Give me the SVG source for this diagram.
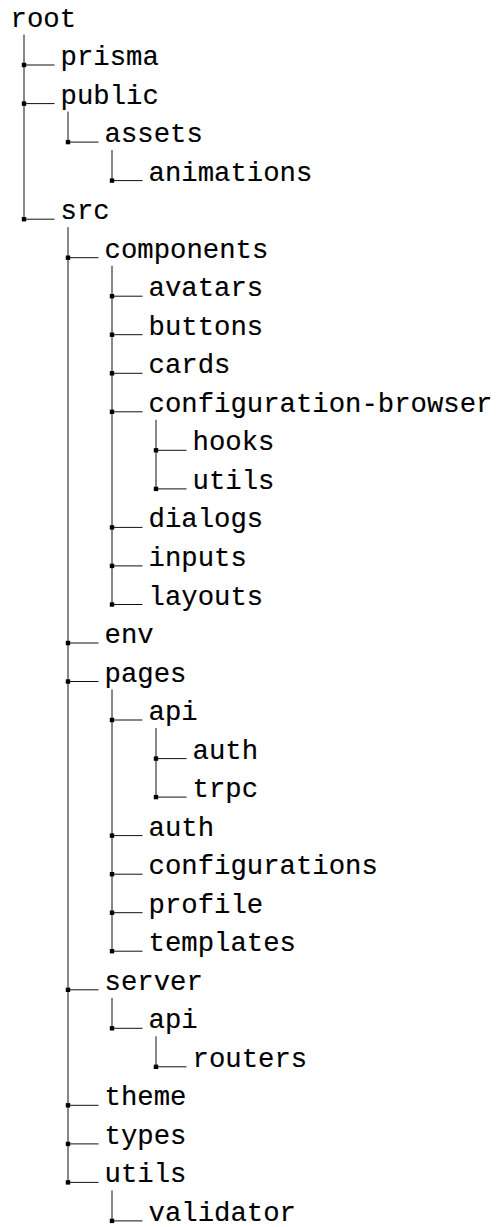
<svg xmlns="http://www.w3.org/2000/svg" width="497" height="1227" viewBox="0 0 497 1227">
  <style>
    .lbl { font-family: "Liberation Mono", "Courier New", monospace; font-size: 27.3px; fill: #000; stroke: #000; stroke-width: 0.15px; }
    .edge { stroke: #111; stroke-width: 1; fill: none; }
    .dot { fill: #000; }
  </style>
  <defs>
    <rect id="knot" class="dot" x="-2.2" y="-2.2" width="4.4" height="4.4"/>
  </defs>
  <rect width="497" height="1227" fill="#fff"/>

  <!-- trunk lines and elbows -->
  <g id="connectors">
    <!-- vertical trunks: parent baseline + 8 down to last child -->
    <line class="edge" x1="24" y1="34.5" x2="24" y2="219.2"/>
    <line class="edge" x1="68" y1="111.6" x2="68" y2="142.1"/>
    <line class="edge" x1="112" y1="150.1" x2="112" y2="180.6"/>
    <line class="edge" x1="68" y1="227.2" x2="68" y2="1182.4"/>
    <line class="edge" x1="112" y1="265.7" x2="112" y2="604.5"/>
    <line class="edge" x1="156" y1="419.8" x2="156" y2="488.9"/>
    <line class="edge" x1="112" y1="689.5" x2="112" y2="951.2"/>
    <line class="edge" x1="156" y1="728" x2="156" y2="797.1"/>
    <line class="edge" x1="112" y1="997.8" x2="112" y2="1028.3"/>
    <line class="edge" x1="156" y1="1036.3" x2="156" y2="1066.8"/>
    <line class="edge" x1="112" y1="1190.4" x2="112" y2="1220.9"/>

    <!-- horizontal elbows -->
    <path class="edge" d="M24 65h30.5 M24 103.6h30.5 M68 142.1h30.5 M112 180.6h30.5 M24 219.2h30.5
      M68 257.7h30.5 M112 296.2h30.5 M112 334.7h30.5 M112 373.3h30.5 M112 411.8h30.5
      M156 450.3h30.5 M156 488.9h30.5 M112 527.4h30.5 M112 565.9h30.5 M112 604.5h30.5
      M68 643h30.5 M68 681.5h30.5 M112 720h30.5 M156 758.6h30.5 M156 797.1h30.5
      M112 835.6h30.5 M112 874.2h30.5 M112 912.7h30.5 M112 951.2h30.5
      M68 989.8h30.5 M112 1028.3h30.5 M156 1066.8h30.5
      M68 1105.3h30.5 M68 1143.9h30.5 M68 1182.4h30.5 M112 1220.9h30.5"/>

    <!-- junction squares -->
    <use href="#knot" x="24" y="65"/>
    <use href="#knot" x="24" y="103.6"/>
    <use href="#knot" x="68" y="142.1"/>
    <use href="#knot" x="112" y="180.6"/>
    <use href="#knot" x="24" y="219.2"/>
    <use href="#knot" x="68" y="257.7"/>
    <use href="#knot" x="112" y="296.2"/>
    <use href="#knot" x="112" y="334.7"/>
    <use href="#knot" x="112" y="373.3"/>
    <use href="#knot" x="112" y="411.8"/>
    <use href="#knot" x="156" y="450.3"/>
    <use href="#knot" x="156" y="488.9"/>
    <use href="#knot" x="112" y="527.4"/>
    <use href="#knot" x="112" y="565.9"/>
    <use href="#knot" x="112" y="604.5"/>
    <use href="#knot" x="68" y="643"/>
    <use href="#knot" x="68" y="681.5"/>
    <use href="#knot" x="112" y="720"/>
    <use href="#knot" x="156" y="758.6"/>
    <use href="#knot" x="156" y="797.1"/>
    <use href="#knot" x="112" y="835.6"/>
    <use href="#knot" x="112" y="874.2"/>
    <use href="#knot" x="112" y="912.7"/>
    <use href="#knot" x="112" y="951.2"/>
    <use href="#knot" x="68" y="989.8"/>
    <use href="#knot" x="112" y="1028.3"/>
    <use href="#knot" x="156" y="1066.8"/>
    <use href="#knot" x="68" y="1105.3"/>
    <use href="#knot" x="68" y="1143.9"/>
    <use href="#knot" x="68" y="1182.4"/>
    <use href="#knot" x="112" y="1220.9"/>
  </g>

  <!-- directory names -->
  <g id="n-root"><text class="lbl" x="10.5" y="26.5">root</text></g>
  <g id="n-prisma"><text class="lbl" x="60.5" y="65">prisma</text></g>
  <g id="n-public"><text class="lbl" x="60.5" y="103.6">public</text></g>
  <g id="n-assets"><text class="lbl" x="104.5" y="142.1">assets</text></g>
  <g id="n-animations"><text class="lbl" x="148.5" y="180.6">animations</text></g>
  <g id="n-src"><text class="lbl" x="60.5" y="219.2">src</text></g>
  <g id="n-components"><text class="lbl" x="104.5" y="257.7">components</text></g>
  <g id="n-avatars"><text class="lbl" x="148.5" y="296.2">avatars</text></g>
  <g id="n-buttons"><text class="lbl" x="148.5" y="334.7">buttons</text></g>
  <g id="n-cards"><text class="lbl" x="148.5" y="373.3">cards</text></g>
  <g id="n-configuration-browser"><text class="lbl" x="148.5" y="411.8">configuration-browser</text></g>
  <g id="n-hooks"><text class="lbl" x="192.5" y="450.3">hooks</text></g>
  <g id="n-cb-utils"><text class="lbl" x="192.5" y="488.9">utils</text></g>
  <g id="n-dialogs"><text class="lbl" x="148.5" y="527.4">dialogs</text></g>
  <g id="n-inputs"><text class="lbl" x="148.5" y="565.9">inputs</text></g>
  <g id="n-layouts"><text class="lbl" x="148.5" y="604.5">layouts</text></g>
  <g id="n-env"><text class="lbl" x="104.5" y="643">env</text></g>
  <g id="n-pages"><text class="lbl" x="104.5" y="681.5">pages</text></g>
  <g id="n-pages-api"><text class="lbl" x="148.5" y="720">api</text></g>
  <g id="n-api-auth"><text class="lbl" x="192.5" y="758.6">auth</text></g>
  <g id="n-trpc"><text class="lbl" x="192.5" y="797.1">trpc</text></g>
  <g id="n-pages-auth"><text class="lbl" x="148.5" y="835.6">auth</text></g>
  <g id="n-configurations"><text class="lbl" x="148.5" y="874.2">configurations</text></g>
  <g id="n-profile"><text class="lbl" x="148.5" y="912.7">profile</text></g>
  <g id="n-templates"><text class="lbl" x="148.5" y="951.2">templates</text></g>
  <g id="n-server"><text class="lbl" x="104.5" y="989.8">server</text></g>
  <g id="n-server-api"><text class="lbl" x="148.5" y="1028.3">api</text></g>
  <g id="n-routers"><text class="lbl" x="192.5" y="1066.8">routers</text></g>
  <g id="n-theme"><text class="lbl" x="104.5" y="1105.3">theme</text></g>
  <g id="n-types"><text class="lbl" x="104.5" y="1143.9">types</text></g>
  <g id="n-utils"><text class="lbl" x="104.5" y="1182.4">utils</text></g>
  <g id="n-validator"><text class="lbl" x="148.5" y="1220.9">validator</text></g>
</svg>
